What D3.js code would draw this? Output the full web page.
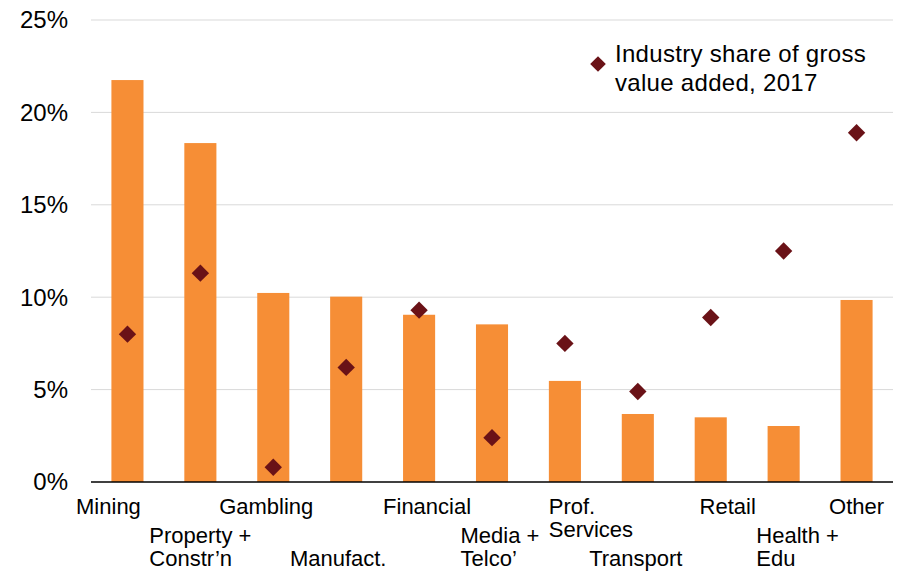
<!DOCTYPE html>
<html>
<head>
<meta charset="utf-8">
<script src="https://cdn.jsdelivr.net/npm/d3@7"></script>
<style>
  body { margin: 0; background: #fff; }
  text { font-family: "Liberation Sans", Arial, sans-serif; fill: #000; }
</style>
</head>
<body>
<div id="chart"></div>
<script>
// data (per cent)
const categories = ['Mining', 'Property +\nConstr’n', 'Gambling', 'Manufact.', 'Financial',
  'Media +\nTelco’', 'Prof.\nServices', 'Transport', 'Retail', 'Health +\nEdu', 'Other']
const barValues = [21.75, 18.34, 10.23, 10.03, 9.05, 8.53, 5.47, 3.68, 3.5, 3.03, 9.85]
const gvaShare = [8.0, 11.3, 0.8, 6.2, 9.3, 2.4, 7.5, 4.9, 8.9, 12.5, 18.9]
const yTicks = [0, 5, 10, 15, 20, 25]
const legendLines = ['Industry share of gross', 'value added, 2017']

const width = 899
const height = 574
const margin = { top: 20, right: 6, bottom: 92, left: 91 }
const barColor = '#f68e36'
const dotColor = '#6a1217'

// small nudges so the staggered labels sit where the original puts them
const labelDx = [-19, 0, -7, -8, 8, 8, 26, -2, 17, 14, 0]

const svg = d3.select('#chart').append('svg')
  .attr('width', width)
  .attr('height', height)

const x = d3.scaleBand()
  .domain(categories)
  .range([margin.left, width - margin.right])
  .paddingInner(0.56)
  .paddingOuter(0.28)

const y = d3.scaleLinear()
  .domain([0, 25])
  .range([height - margin.bottom, margin.top])

// gridlines
svg.append('g')
  .selectAll('line')
  .data(yTicks.filter(d => d > 0))
  .join('line')
    .attr('x1', margin.left)
    .attr('x2', width - margin.right)
    .attr('y1', d => y(d))
    .attr('y2', d => y(d))
    .attr('stroke', '#d9d9d9')
    .attr('stroke-width', 1)

// y tick labels
svg.append('g')
  .selectAll('text')
  .data(yTicks)
  .join('text')
    .attr('x', 68)
    .attr('y', d => y(d))
    .attr('dy', '0.35em')
    .attr('text-anchor', 'end')
    .attr('font-size', 24)
    .text(d => d + '%')

// bars
svg.append('g')
  .selectAll('rect')
  .data(barValues)
  .join('rect')
    .attr('x', (d, i) => x(categories[i]))
    .attr('width', x.bandwidth())
    .attr('y', d => y(d))
    .attr('height', d => y(0) - y(d))
    .attr('fill', barColor)

// baseline
svg.append('line')
  .attr('x1', margin.left)
  .attr('x2', width - margin.right)
  .attr('y1', y(0))
  .attr('y2', y(0))
  .attr('stroke', '#000')
  .attr('stroke-width', 1.3)

// diamonds
const diamond = d3.symbol().type(d3.symbolSquare).size(151)
svg.append('g')
  .selectAll('path')
  .data(gvaShare)
  .join('path')
    .attr('d', diamond)
    .attr('transform', (d, i) => `translate(${x(categories[i]) + x.bandwidth() / 2},${y(d)}) rotate(45)`)
    .attr('fill', dotColor)

// x labels, staggered over two rows
const lineGap = 23
const xLabels = svg.append('g')
categories.forEach((c, i) => {
  const lines = c.split('\n')
  const cx = x(c) + x.bandwidth() / 2 + labelDx[i]
  // even: hang from the top row; odd: sit on the bottom row
  const first = i % 2 === 0 ? y(0) + 32 : y(0) + 84 - (lines.length - 1) * lineGap
  const t = xLabels.append('text')
    .attr('font-size', 22)
    .attr('text-anchor', 'start')
  lines.forEach((l, j) => {
    t.append('tspan')
      .attr('x', cx)
      .attr('y', first + j * lineGap)
      .text(l)
  })
  // centre the block on the bar
  const bw = t.node().getBBox().width
  t.selectAll('tspan').attr('x', cx - bw / 2)
})

// legend
const legend = svg.append('g')
legend.append('path')
  .attr('d', d3.symbol().type(d3.symbolSquare).size(123))
  .attr('transform', 'translate(598,64) rotate(45)')
  .attr('fill', dotColor)
legend.selectAll('text')
  .data(legendLines)
  .join('text')
    .attr('x', 615)
    .attr('y', (d, i) => 61.5 + i * 29)
    .attr('font-size', 24)
    .attr('letter-spacing', 0.3)
    .text(d => d)
</script>
</body>
</html>
